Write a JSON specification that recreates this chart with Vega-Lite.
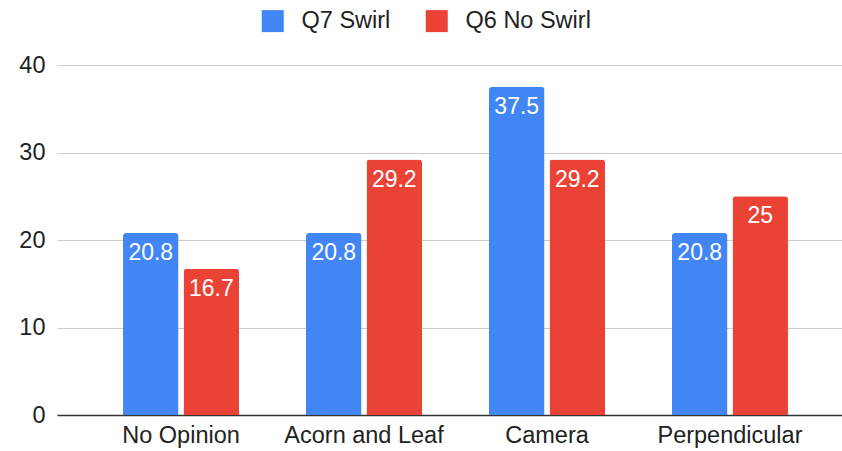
{
  "$schema": "https://vega.github.io/schema/vega-lite/v6.json",
  "width": 785,
  "height": 350,
  "padding": {"left": 57, "top": 65, "right": 0, "bottom": 36},
  "autosize": {"type": "none"},
  "background": "white",
  "data": {
    "values": [
      {"category": "No Opinion", "series": "Q7 Swirl", "value": 20.8},
      {"category": "No Opinion", "series": "Q6 No Swirl", "value": 16.7},
      {"category": "Acorn and Leaf", "series": "Q7 Swirl", "value": 20.8},
      {"category": "Acorn and Leaf", "series": "Q6 No Swirl", "value": 29.2},
      {"category": "Camera", "series": "Q7 Swirl", "value": 37.5},
      {"category": "Camera", "series": "Q6 No Swirl", "value": 29.2},
      {"category": "Perpendicular", "series": "Q7 Swirl", "value": 20.8},
      {"category": "Perpendicular", "series": "Q6 No Swirl", "value": 25}
    ]
  },
  "encoding": {
    "x": {
      "field": "category",
      "type": "nominal",
      "sort": ["No Opinion", "Acorn and Leaf", "Camera", "Perpendicular"],
      "scale": {"paddingInner": 0.366, "paddingOuter": 0.328, "align": 0.55},
      "axis": {
        "title": null,
        "labelAngle": 0,
        "labelFontSize": 23.5,
        "labelFont": "Liberation Sans",
        "labelColor": "#222222",
        "labelPadding": 8,
        "ticks": false,
        "domainColor": "#333333",
        "domainWidth": 1.5,
        "grid": false
      }
    },
    "xOffset": {
      "field": "series",
      "type": "nominal",
      "sort": ["Q7 Swirl", "Q6 No Swirl"],
      "scale": {"paddingInner": 0.083}
    },
    "y": {
      "field": "value",
      "type": "quantitative",
      "scale": {"domain": [0, 40], "nice": false},
      "axis": {
        "title": null,
        "values": [0, 10, 20, 30, 40],
        "labelFontSize": 23.5,
        "labelFont": "Liberation Sans",
        "labelColor": "#222222",
        "labelPadding": 12,
        "ticks": false,
        "domain": false,
        "gridColor": "#cccccc",
        "gridWidth": 1
      }
    }
  },
  "layer": [
    {
      "mark": {"type": "bar", "cornerRadiusTopLeft": 3, "cornerRadiusTopRight": 3},
      "encoding": {
        "color": {
          "field": "series",
          "type": "nominal",
          "sort": ["Q7 Swirl", "Q6 No Swirl"],
          "scale": {"domain": ["Q7 Swirl", "Q6 No Swirl"], "range": ["#4285F4", "#EA4335"]},
          "legend": {
            "title": null,
            "orient": "none",
            "legendX": 204,
            "legendY": -56,
            "direction": "horizontal",
            "symbolType": "square",
            "symbolSize": 484,
            "symbolStrokeWidth": 0,
            "labelFontSize": 23.5,
            "labelFont": "Liberation Sans",
            "labelColor": "#222222",
            "labelOffset": 17,
            "columnPadding": 34
          }
        }
      }
    },
    {
      "mark": {"type": "text", "baseline": "top", "dy": 9, "color": "white", "fontSize": 23, "font": "Liberation Sans"},
      "encoding": {
        "text": {"field": "value", "type": "quantitative"}
      }
    }
  ],
  "config": {"view": {"stroke": null}}
}
